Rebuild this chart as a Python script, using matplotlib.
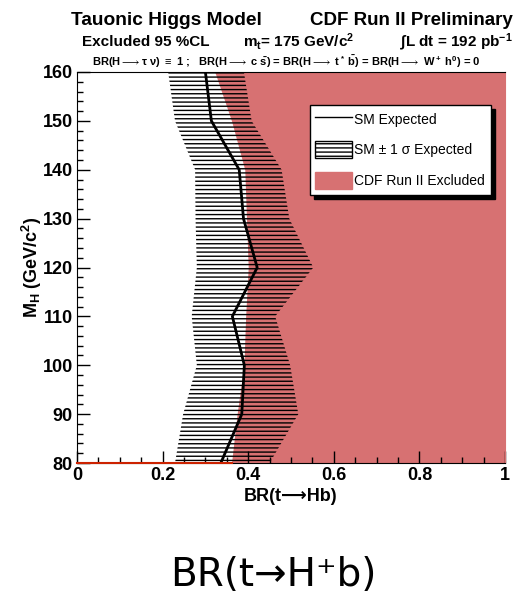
import matplotlib
matplotlib.use('Agg')
import matplotlib.pyplot as plt
from matplotlib.lines import Line2D
from matplotlib.patches import Patch
from matplotlib.ticker import MultipleLocator

# Higgs mass points (GeV/c^2)
mass = [160, 150, 140, 130, 120, 110, 100, 90, 80]
# SM expected limit on BR(t->Hb)
sm_expected = [0.300, 0.314, 0.379, 0.389, 0.421, 0.363, 0.391, 0.385, 0.336]
# +-1 sigma band
band_low = [0.213, 0.229, 0.276, 0.277, 0.280, 0.268, 0.280, 0.248, 0.229]
band_high = [0.390, 0.408, 0.478, 0.496, 0.552, 0.463, 0.498, 0.517, 0.450]
# observed exclusion edge (excluded above)
excluded = [0.322, 0.361, 0.392, 0.396, 0.400, 0.394, 0.390, 0.374, 0.361]

red = '#d77172'

plt.rcParams['font.family'] = ['Liberation Sans', 'DejaVu Sans']
plt.rcParams['mathtext.fontset'] = 'custom'
plt.rcParams['mathtext.rm'] = 'Liberation Sans:bold'
plt.rcParams['mathtext.it'] = 'Liberation Sans:bold'
plt.rcParams['mathtext.bf'] = 'Liberation Sans:bold'
plt.rcParams['mathtext.default'] = 'rm'
plt.rcParams['mathtext.fallback'] = 'stixsans'
plt.rcParams['hatch.linewidth'] = 1.0

fig = plt.figure(figsize=(5.18, 5.95), dpi=100)
ax = fig.add_axes([0.1486, 0.2218, 0.8264, 0.6572])

ax.fill_betweenx(mass, excluded, [1.0] * len(mass), color=red, lw=0, zorder=1)
ax.fill_betweenx(mass, band_low, band_high, facecolor='none', edgecolor='black',
                 hatch='----', lw=0, zorder=2)
ax.plot(sm_expected, mass, color='black', lw=2, zorder=3)
ax.plot([0, excluded[-1]], [mass[-1], mass[-1]], color='#cc2200', lw=1.5,
        zorder=6, clip_on=False)

ax.set_xlim(0, 1)
ax.set_ylim(80, 160)
ax.xaxis.set_major_locator(MultipleLocator(0.2))
ax.xaxis.set_minor_locator(MultipleLocator(0.05))
ax.yaxis.set_major_locator(MultipleLocator(10))
ax.yaxis.set_minor_locator(MultipleLocator(2))
ax.set_xticks([0, 0.2, 0.4, 0.6, 0.8, 1.0], ['0', '0.2', '0.4', '0.6', '0.8', '1'])
ax.tick_params(which='both', direction='in', top=False, right=False, width=1)
ax.tick_params(which='major', length=9, labelsize=13, pad=3)
ax.tick_params(which='minor', length=4.5)
for lab in ax.get_xticklabels() + ax.get_yticklabels():
    lab.set_fontweight('bold')
ax.spines['right'].set_color(red)
for s in ax.spines.values():
    s.set_zorder(5)

ax.set_xlabel('BR(t⟶Hb)', fontsize=13, fontweight='bold', labelpad=3)
ax.set_ylabel(r'M$_H$ (GeV/c$^2$)', fontsize=13, fontweight='bold', labelpad=-1)

handles = [Line2D([], [], color='black', lw=1),
           Patch(facecolor='white', edgecolor='black', hatch='----', lw=1),
           Patch(facecolor=red, edgecolor=red)]
labels = ['SM Expected', 'SM ± 1 σ Expected', 'CDF Run II Excluded']
leg = ax.legend(handles, labels, loc='upper left', bbox_to_anchor=(0.544, 0.9156),
                borderaxespad=0, fontsize=10, frameon=True, fancybox=False,
                edgecolor='black', framealpha=1, borderpad=0.4, labelspacing=1.0,
                handlelength=2.6, handleheight=1.5, handletextpad=0.2,
                shadow={'color': 'black', 'alpha': 1, 'ox': 3, 'oy': -3})
leg.get_frame().set_linewidth(1)
leg.set_zorder(7)

fig.text(0.138, 0.958, 'Tauonic Higgs Model', fontsize=13.8, fontweight='bold',
         va='baseline')
fig.text(0.99, 0.958, 'CDF Run II Preliminary', fontsize=13.5, fontweight='bold',
         va='baseline', ha='right')
fig.text(0.158, 0.922, 'Excluded 95 %CL', fontsize=11, fontweight='bold', va='baseline')
fig.text(0.469, 0.922, r'm$_t$= 175 GeV/c$^2$', fontsize=11, fontweight='bold',
         va='baseline')
fig.text(0.99, 0.922, r'$\int$L dt = 192 pb$^{-1}$', fontsize=11, fontweight='bold',
         va='baseline', ha='right')
fig.text(0.552, 0.889,
         r'BR(H$\longrightarrow\tau\ \nu$) $\equiv$ 1 ;   BR(H$\longrightarrow$ c $\bar{s}$) = '
         r'BR(H$\longrightarrow$ t$^*$ $\bar{b}$) = BR(H$\longrightarrow$ W$^+$ h$^0$) = 0',
         fontsize=8, fontweight='bold', ha='center', va='baseline')

fig.text(0.527, 0.034, 'BR(t→H⁺b)', fontsize=28, ha='center', va='center',
         family=['DejaVu Sans'])

fig.savefig('out.png', dpi=100)
